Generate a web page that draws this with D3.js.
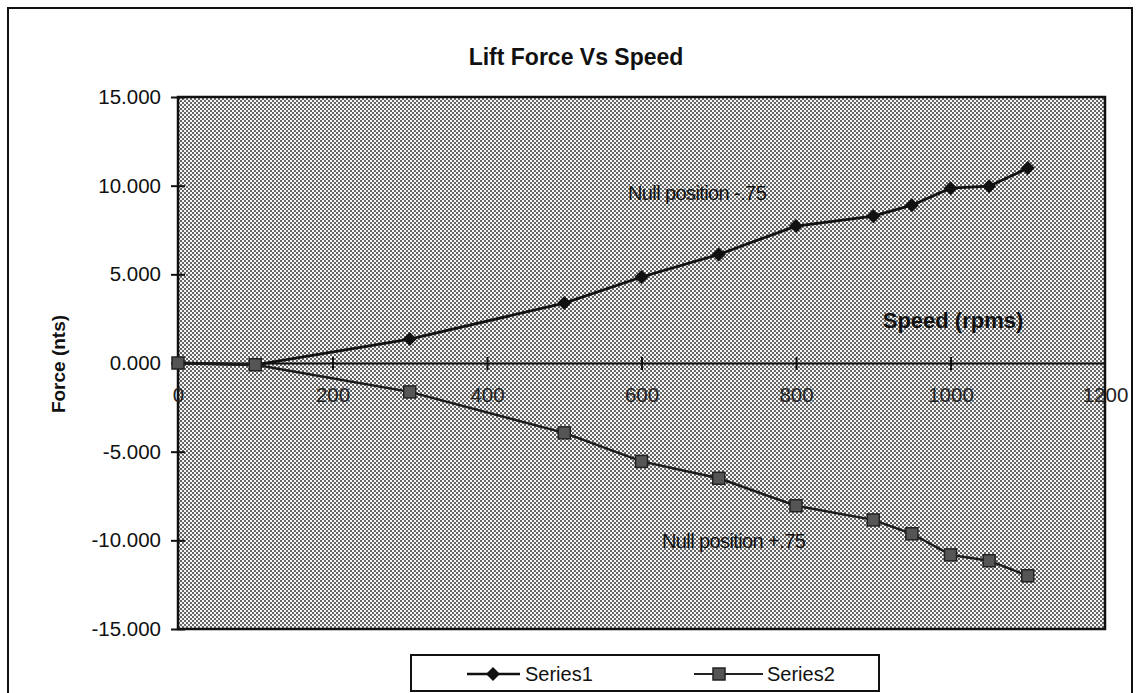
<!DOCTYPE html>
<html>
<head>
<meta charset="utf-8">
<script src="https://cdn.jsdelivr.net/npm/d3@7/dist/d3.min.js"></script>
<style>
  html, body { margin: 0; padding: 0; background: #fff; }
  svg { display: block; font-family: "Liberation Sans", Arial, sans-serif; }
</style>
</head>
<body>
<svg id="chart" width="1140" height="693"></svg>
<script>
const speeds = [0, 100, 300, 500, 600, 700, 800, 900, 950, 1000, 1050, 1100];
const series1 = [0, -0.1, 1.35, 3.38, 4.85, 6.12, 7.72, 8.28, 8.9, 9.86, 9.97, 10.99];
const series2 = [0, -0.1, -1.63, -3.94, -5.55, -6.5, -8.05, -8.85, -9.63, -10.82, -11.15, -12.0];
const seriesNames = ["Series1", "Series2"];
const xTicks = [0, 200, 400, 600, 800, 1000, 1200];
const yTicks = [15, 10, 5, 0, -5, -10, -15];
const title = "Lift Force Vs Speed";
const xTitle = "Speed (rpms)";
const yTitle = "Force (nts)";
const notes = ["Null position -.75", "Null position +.75"];

const svg = d3.select("#chart");
const L = 178, R = 1105, T = 97, B = 629;
const x = d3.scaleLinear().domain([0, 1200]).range([L, R]);
const y = d3.scaleLinear().domain([-15, 15]).range([B, T]);
const fmt3 = d => d3.format(".3f")(d).replace("\u2212", "-");

// outer frame
svg.append("path").attr("d", "M8,700 L8,8 L1132,8 L1132,700")
  .attr("fill", "none").attr("stroke", "#111").attr("stroke-width", 2);

// halftone pattern
const defs = svg.append("defs");
const pat = defs.append("pattern").attr("id", "dots").attr("patternUnits", "userSpaceOnUse")
  .attr("width", 4).attr("height", 4);
pat.append("rect").attr("width", 4).attr("height", 4).attr("fill", "#f6f6f6");
pat.append("rect").attr("width", 2).attr("height", 2).attr("fill", "#666");
pat.append("rect").attr("x", 2).attr("y", 2).attr("width", 2).attr("height", 2).attr("fill", "#666");

svg.append("rect").attr("x", L).attr("y", T).attr("width", R - L).attr("height", B - T)
  .attr("fill", "url(#dots)").attr("stroke", "#111").attr("stroke-width", 2.5);

// title
svg.append("text").attr("x", 576).attr("y", 65).attr("text-anchor", "middle")
  .attr("font-size", 23).attr("font-weight", "bold").attr("fill", "#111").text(title);

// y axis
const yAxis = d3.axisLeft(y).tickValues(yTicks).tickSizeInner(0).tickSizeOuter(0)
  .tickPadding(17).tickFormat(fmt3);
const gy = svg.append("g").attr("transform", `translate(${L},0)`).call(yAxis);
gy.select(".domain").remove();
gy.selectAll("text").attr("font-size", 20.5).attr("fill", "#111")
  .attr("font-family", "'Liberation Sans', Arial, sans-serif");
gy.selectAll(".tick").append("line").attr("x1", -7).attr("x2", 7)
  .attr("stroke", "#111").attr("stroke-width", 2);

// x axis along y=0
const xAxis = d3.axisBottom(x).tickValues(xTicks).tickSizeInner(0).tickSizeOuter(0)
  .tickPadding(24).tickFormat(d3.format("d"));
const gx = svg.append("g").attr("transform", `translate(0,${y(0)})`).call(xAxis);
gx.select(".domain").attr("stroke", "#111").attr("stroke-width", 2.2);
gx.selectAll("text").attr("font-size", 20.5).attr("fill", "#222")
  .attr("font-family", "'Liberation Sans', Arial, sans-serif");
gx.selectAll(".tick").filter(d => d > 0 && d < 1200).append("line")
  .attr("y1", -6).attr("y2", 7).attr("stroke", "#111").attr("stroke-width", 2);

// axis titles
svg.append("text").attr("x", 953).attr("y", 328).attr("text-anchor", "middle")
  .attr("font-size", 22).attr("font-weight", "bold").attr("fill", "#111").text(xTitle);
svg.append("text").attr("transform", "translate(65,364) rotate(-90)").attr("text-anchor", "middle")
  .attr("font-size", 19).attr("font-weight", "bold").attr("fill", "#111").text(yTitle);

// lines
const line = d3.line().x(d => x(d[0])).y(d => y(d[1]));
const d1 = speeds.map((s, i) => [s, series1[i]]);
const d2 = speeds.map((s, i) => [s, series2[i]]);
svg.append("path").datum(d1).attr("d", line).attr("fill", "none")
  .attr("stroke", "#111").attr("stroke-width", 2.8);
svg.append("path").datum(d2).attr("d", line).attr("fill", "none")
  .attr("stroke", "#1a1a1a").attr("stroke-width", 2.4);

const diamondPath = "M0,-7L7,0L0,7L-7,0Z";
svg.append("g").selectAll("path").data(d1).join("path")
  .attr("d", diamondPath).attr("transform", d => `translate(${x(d[0])},${y(d[1])})`)
  .attr("fill", "#111");
svg.append("g").selectAll("rect").data(d2).join("rect")
  .attr("x", d => x(d[0]) - 6).attr("y", d => y(d[1]) - 6).attr("width", 12).attr("height", 12)
  .attr("fill", "#555").attr("stroke", "#222").attr("stroke-width", 1.5);

// annotations
svg.append("text").attr("x", 628).attr("y", 200).attr("font-size", 20).attr("letter-spacing", -0.6)
  .attr("fill", "#111").text(notes[0]);
svg.append("text").attr("x", 662).attr("y", 548).attr("font-size", 20).attr("letter-spacing", -0.6)
  .attr("fill", "#111").text(notes[1]);

// legend
const lg = svg.append("g");
lg.append("rect").attr("x", 411).attr("y", 655).attr("width", 468).attr("height", 36)
  .attr("fill", "#fff").attr("stroke", "#111").attr("stroke-width", 2);
const ly = 674;
lg.append("line").attr("x1", 467).attr("x2", 520).attr("y1", ly).attr("y2", ly)
  .attr("stroke", "#111").attr("stroke-width", 2.5);
lg.append("path").attr("d", diamondPath).attr("transform", `translate(493,${ly})`).attr("fill", "#111");
lg.append("text").attr("x", 525).attr("y", ly + 7).attr("font-size", 20).attr("fill", "#111").text(seriesNames[0]);
lg.append("line").attr("x1", 694).attr("x2", 763).attr("y1", ly).attr("y2", ly)
  .attr("stroke", "#222").attr("stroke-width", 2);
lg.append("rect").attr("x", 713).attr("y", ly - 6).attr("width", 12).attr("height", 12)
  .attr("fill", "#555").attr("stroke", "#222").attr("stroke-width", 1.5);
lg.append("text").attr("x", 767).attr("y", ly + 7).attr("font-size", 20).attr("fill", "#111").text(seriesNames[1]);
</script>
</body>
</html>
